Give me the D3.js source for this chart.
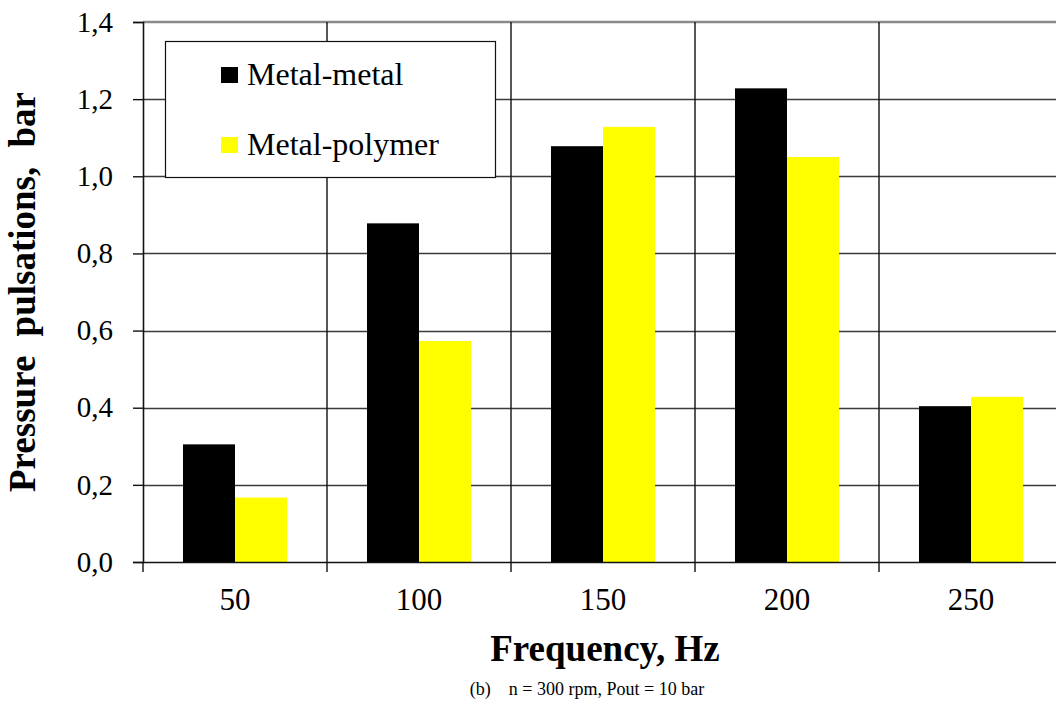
<!DOCTYPE html>
<html>
<head>
<meta charset="utf-8">
<script src="https://cdn.jsdelivr.net/npm/d3@7"></script>
<style>
  html, body { margin: 0; padding: 0; background: #fff; }
  svg { display: block; }
  svg text { font-family: "Liberation Serif", "DejaVu Serif", serif; fill: #000; }
</style>
</head>
<body>
<svg id="chart" width="1056" height="702"></svg>
<script>
// Pressure pulsation amplitude vs. frequency for two bearing pairs
const frequencies = ["50", "100", "150", "200", "250"];
const seriesNames = ["Metal-metal", "Metal-polymer"];
const metalMetal = [0.305, 0.878, 1.078, 1.228, 0.404];
const metalPolymer = [0.167, 0.573, 1.128, 1.050, 0.428];
const yTicks = [0, 0.2, 0.4, 0.6, 0.8, 1.0, 1.2, 1.4];
const seriesColors = ["#000000", "#ffff00"];

const svg = d3.select("#chart");
const plotLeft = 143, plotRight = 1063, plotTop = 22, plotBottom = 562;

const rows = frequencies.map((f, i) => ({ f, values: [metalMetal[i], metalPolymer[i]] }));

const y = d3.scaleLinear().domain([0, 1.4]).range([plotBottom, plotTop]);
const x0 = d3.scaleBand().domain(frequencies).range([plotLeft, plotRight])
  .paddingInner(0.4348).paddingOuter(0.2174);
const x1 = d3.scaleBand().domain(seriesNames).range([0, x0.bandwidth()]);
const color = d3.scaleOrdinal().domain(seriesNames).range(seriesColors);

const comma = d3.formatLocale({ decimal: ",", thousands: " ", grouping: [3], currency: ["", ""] }).format(".1f");

// horizontal grid
svg.append("g").selectAll("line").data(yTicks.slice(1, -1)).join("line")
  .attr("x1", plotLeft).attr("x2", plotRight)
  .attr("y1", d => Math.round(y(d)) + 0.5).attr("y2", d => Math.round(y(d)) + 0.5)
  .attr("stroke", "#3a3a3a").attr("stroke-width", 1.4);
// top border
svg.append("line").attr("x1", plotLeft).attr("x2", plotRight)
  .attr("y1", y(1.4)).attr("y2", y(1.4))
  .attr("stroke", "#8a8a8a").attr("stroke-width", 2.4);

// vertical grid at category boundaries
const bounds = d3.range(frequencies.length + 1).map(i => x0.range()[0] + i * x0.step());
svg.append("g").selectAll("line").data(bounds.slice(1)).join("line")
  .attr("x1", d => d).attr("x2", d => d)
  .attr("y1", plotTop).attr("y2", plotBottom + 10)
  .attr("stroke", "#111").attr("stroke-width", 1.4);

// bars
const groups = svg.append("g").selectAll("g").data(rows).join("g")
  .attr("transform", d => `translate(${x0(d.f)},0)`);
groups.selectAll("rect").data(d => d.values.map((v, i) => ({ key: seriesNames[i], v }))).join("rect")
  .attr("x", d => x1(d.key)).attr("width", x1.bandwidth())
  .attr("y", d => y(d.v)).attr("height", d => y(0) - y(d.v))
  .attr("fill", d => color(d.key));

// y axis
const yAxis = svg.append("g").attr("transform", `translate(${plotLeft},0)`)
  .call(d3.axisLeft(y).tickValues(yTicks).tickSize(10).tickPadding(20).tickFormat(comma))
  .attr("font-family", null).attr("font-size", null);
yAxis.select(".domain").attr("stroke", "#111").attr("stroke-width", 1.6);
yAxis.selectAll(".tick line").attr("stroke", "#111").attr("stroke-width", 1.4);
yAxis.selectAll(".tick text").style("font-size", "29px");

// x axis line and boundary ticks
svg.append("line").attr("x1", plotLeft).attr("x2", plotRight)
  .attr("y1", plotBottom + 0.5).attr("y2", plotBottom + 0.5)
  .attr("stroke", "#111").attr("stroke-width", 1.6);
svg.append("line").attr("x1", plotLeft).attr("x2", plotLeft)
  .attr("y1", plotBottom).attr("y2", plotBottom + 10)
  .attr("stroke", "#111").attr("stroke-width", 1.4);
svg.append("g").selectAll("text").data(frequencies).join("text")
  .attr("x", d => x0(d) + x0.bandwidth() / 2).attr("y", 610)
  .attr("text-anchor", "middle").style("font-size", "31px").text(d => d);

// axis titles
svg.append("text")
  .attr("transform", `translate(35,${(plotTop + plotBottom) / 2}) rotate(-90)`)
  .attr("text-anchor", "middle").style("font-size", "37px").style("font-weight", "bold")
  .style("word-spacing", "10px")
  .text("Pressure pulsations, bar");
svg.append("text").attr("x", (plotLeft + plotRight) / 2 + 2).attr("y", 661)
  .attr("text-anchor", "middle").style("font-size", "37px").style("font-weight", "bold")
  .text("Frequency, Hz");
svg.append("text").attr("x", 587).attr("y", 695)
  .attr("text-anchor", "middle").style("font-size", "18px").style("white-space", "pre")
  .text("(b)    n = 300 rpm, Pout = 10 bar");

// legend
const legend = svg.append("g");
legend.append("rect").attr("x", 165.5).attr("y", 41.5).attr("width", 330).attr("height", 136)
  .attr("fill", "#fff").attr("stroke", "#111").attr("stroke-width", 1.2);
const items = legend.selectAll("g").data(seriesNames).join("g")
  .attr("transform", (d, i) => `translate(221,${67 + i * 70})`);
items.append("rect").attr("width", 17).attr("height", 16).attr("fill", d => color(d));
items.append("text").attr("x", 26).attr("y", 18).style("font-size", "32px").text(d => d);
</script>
</body>
</html>
